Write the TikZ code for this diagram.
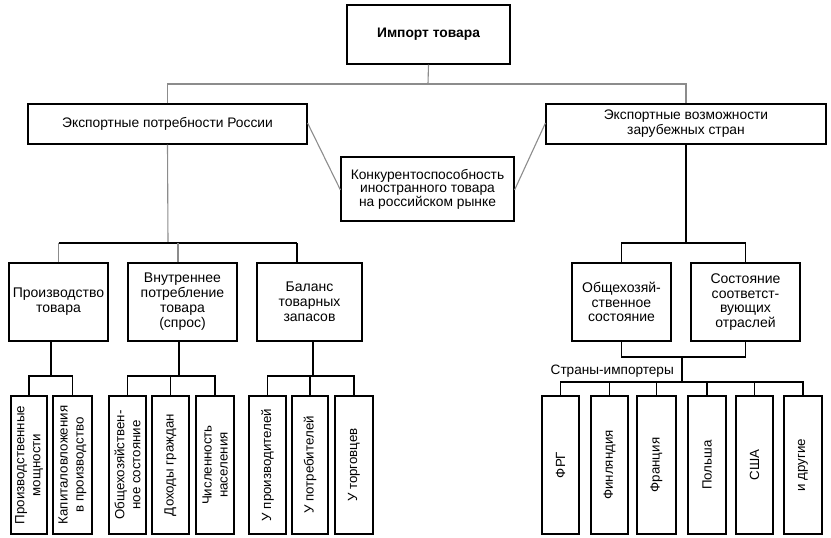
\documentclass[tikz,border=0pt]{standalone}
\usepackage{fontspec}
\setmainfont{Liberation Sans}
\begin{document}
\begin{tikzpicture}[x=1pt,y=-1pt,
  box/.style={draw, line width=1.1pt, align=center, inner sep=1pt, font=\fontsize{14}{15}\selectfont},
  vbox/.style={draw, line width=1.1pt, align=center, inner sep=1pt, rotate=90, minimum width=138pt, font=\fontsize{13.3}{16}\selectfont},
  ln/.style={line width=1.1pt},
  gl/.style={line width=1.1pt, draw=black!45},
  tk/.style={line width=2.6pt}]
\useasboundingbox (0,0) rectangle (831,538);

% top level
\node[box, minimum width=163pt, minimum height=59pt, font=\fontsize{13.8}{15}\selectfont\bfseries] (imp) at (428.5,34.5) {Импорт товара};
\node[box, minimum width=279pt, minimum height=40pt, font=\fontsize{13.8}{15}\selectfont] (L) at (167.5,124) {Экспортные потребности России};
\node[box, minimum width=280pt, minimum height=40pt, font=\fontsize{13.8}{15}\selectfont] (R) at (686,124) {Экспортные возможности\\зарубежных стран};
\node[box, minimum width=173pt, minimum height=64pt, font=\fontsize{13.8}{13.5}\selectfont] (K) at (427.5,189) {Конкурентоспособность\\иностранного товара\\на российском рынке};

\coordinate (t1) at (428,84);
\draw[gl] (imp.south) -- (t1);
\draw[gl] (L.north) |- (t1) -| (R.north);
\draw[gl] ([yshift=1pt]L.east) -- ([yshift=-1pt]K.west);
\draw[gl] ([yshift=1pt]R.west) -- ([yshift=-1pt]K.east);

% left second level
\node[box, minimum width=99pt, minimum height=78pt] (P) at (58.5,302) {Производство\\товара};
\node[box, minimum width=109pt, minimum height=78pt] (V) at (182.5,302) {Внутреннее\\потребление\\товара\\(спрос)};
\node[box, minimum width=105pt, minimum height=78pt] (B) at (309.5,302) {Баланс\\товарных\\запасов};

\coordinate (t2) at (168,243);
\draw[gl] (L.south) -- (t2);
\draw[ln] (P.north |- t2) -- ([xshift=-12.5pt]B.north |- t2);
\draw[gl] (P.north) -- (P.north |- t2);
\draw[gl] ([xshift=-4.5pt]V.north) -- ([xshift=-4.5pt]V.north |- t2);
\draw[ln] ([xshift=-12.5pt]B.north) -- ([xshift=-12.5pt]B.north |- t2);

% left small boxes
\node[vbox, minimum height=36pt] (s1) at (29,465) {Производственные\\мощности};
\node[vbox, minimum height=39pt] (s2) at (72.5,465) {Капиталовложения\\в производство};
\node[vbox, minimum height=37pt] (s3) at (127.5,465) {Общехозяйствен-\\ное состояние};
\node[vbox, minimum height=37pt] (s4) at (170.5,465) {Доходы граждан};
\node[vbox, minimum height=38pt] (s5) at (215,465) {Численность\\населения};
\node[vbox, minimum height=37pt] (s6) at (267.5,465) {У производителей};
\node[vbox, minimum height=36pt] (s7) at (310,465) {У потребителей};
\node[vbox, minimum height=38pt] (s8) at (354,465) {У торговцев};

\coordinate (j1) at (51,376);
\coordinate (j2) at (179,376);
\coordinate (j3) at (313,376);
\draw[tk] ([xshift=-7.5pt]P.south) -- (j1);
\draw[tk] ([xshift=-3.5pt]V.south) -- (j2);
\draw[ln] ([xshift=3.5pt]B.south) -- (j3);
\draw[ln] (s1.east) -- (s1.east |- j1) -- (s2.east |- j1) -- (s2.east);
\draw[ln] (s3.east) -- (s3.east |- j2) -- (s5.east |- j2) -- (s5.east);
\draw[ln] (s4.east) -- (s4.east |- j2);
\draw[ln] (s6.east) -- (s6.east |- j3) -- (s8.east |- j3) -- (s8.east);
\draw[ln] (s7.east) -- (s7.east |- j3);

% right second level
\node[box, minimum width=99pt, minimum height=78pt, font=\fontsize{14}{14.5}\selectfont] (O) at (621.5,302) {Общехозяй-\\ственное\\состояние};
\node[box, minimum width=109pt, minimum height=78pt, font=\fontsize{14}{14.5}\selectfont] (S) at (745.5,302) {Состояние\\соответст-\\вующих\\отраслей};

\coordinate (t3) at (686,243);
\draw[ln] (R.south) -- (t3);
\draw[ln] (O.north) |- (t3) -| (S.north);

\coordinate (t4) at (682,357);
\coordinate (t5) at (682,382);
\draw[ln] (O.south) |- (t4) -| (S.south);
\draw[ln] (t4) -- (t5);
\node[anchor=base east, inner sep=0pt, font=\fontsize{13.6}{15}\selectfont] (imlab) at (674,374) {Страны-импортеры};

\node[vbox, minimum height=37pt] (r1) at (560.5,465) {ФРГ};
\node[vbox, minimum height=37pt] (r2) at (609.5,465) {Финляндия};
\node[vbox, minimum height=39pt] (r3) at (656.5,465) {Франция};
\node[vbox, minimum height=38pt] (r4) at (707,465) {Польша};
\node[vbox, minimum height=37pt] (r5) at (754.5,465) {США};
\node[vbox, minimum height=38pt] (r6) at (803,465) {и другие};

\draw[ln] (r1.east) -- (r1.east |- t5) -- (r6.east |- t5) -- (r6.east);
\foreach \n in {r2,r3,r4,r5} \draw[ln] (\n.east) -- (\n.east |- t5);
\end{tikzpicture}
\end{document}
